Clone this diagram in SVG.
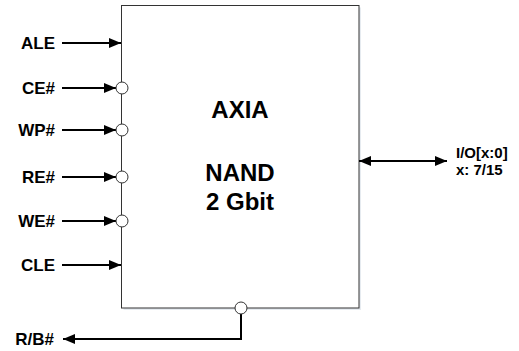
<svg xmlns="http://www.w3.org/2000/svg" width="519" height="351" viewBox="0 0 519 351">
<style>
.lbl{font-family:"Liberation Sans",Arial,sans-serif;font-weight:bold;font-size:17px;fill:#000}
.io{font-family:"Liberation Sans",Arial,sans-serif;font-weight:bold;font-size:15px;fill:#000}
.big{font-family:"Liberation Sans",Arial,sans-serif;font-weight:bold;font-size:24px;fill:#000;text-anchor:middle}
.wire{stroke:#000;stroke-width:2;fill:none}
.bub{fill:#fff;stroke:#333;stroke-width:1}
</style>
<defs>
<marker id="ah" viewBox="0 0 12 10" refX="12" refY="5" markerWidth="12" markerHeight="10" markerUnits="userSpaceOnUse" orient="auto-start-reverse">
<path d="M0,0 L12,5 L0,10 z" fill="#000"/>
</marker>
</defs>
<g id="chip">
<rect x="123.5" y="7.5" width="237.5" height="302.5" fill="#e6ebf0"/>
<rect x="121.5" y="5.5" width="237.5" height="302.5" fill="#fff" stroke="#333" stroke-width="1"/>
<text class="big" x="240" y="118">AXIA</text>
<text class="big" x="240" y="181">NAND</text>
<text class="big" x="240" y="210">2 Gbit</text>
</g>
<g id="connectors">
<line class="wire" x1="62" y1="43" x2="121" y2="43" marker-end="url(#ah)"/>
<line class="wire" x1="62" y1="88" x2="116" y2="88" marker-end="url(#ah)"/>
<line class="wire" x1="62" y1="130" x2="116" y2="130" marker-end="url(#ah)"/>
<line class="wire" x1="62" y1="177" x2="116" y2="177" marker-end="url(#ah)"/>
<line class="wire" x1="62" y1="221" x2="116" y2="221" marker-end="url(#ah)"/>
<line class="wire" x1="62" y1="265" x2="121" y2="265" marker-end="url(#ah)"/>
<line class="wire" x1="359" y1="161" x2="447" y2="161" marker-start="url(#ah)" marker-end="url(#ah)"/>
<polyline class="wire" points="241,314 241,339 63,339" marker-end="url(#ah)"/>
</g>
<g id="bubbles">
<circle class="bub" cx="122" cy="88" r="6"/>
<circle class="bub" cx="122" cy="130" r="6"/>
<circle class="bub" cx="122" cy="177" r="6"/>
<circle class="bub" cx="122" cy="221" r="6"/>
<circle class="bub" cx="241" cy="308" r="6"/>
</g>
<g id="labels">
<text class="lbl" x="55" y="49" text-anchor="end">ALE</text>
<text class="lbl" x="55" y="94" text-anchor="end">CE#</text>
<text class="lbl" x="55" y="136" text-anchor="end">WP#</text>
<text class="lbl" x="55" y="183" text-anchor="end">RE#</text>
<text class="lbl" x="55" y="227" text-anchor="end">WE#</text>
<text class="lbl" x="55" y="271" text-anchor="end">CLE</text>
<text class="lbl" x="54" y="345" text-anchor="end">R/B#</text>
<text class="io" x="456" y="158">I/O[x:0]</text>
<text class="io" x="456" y="175">x: 7/15</text>
</g>
</svg>
